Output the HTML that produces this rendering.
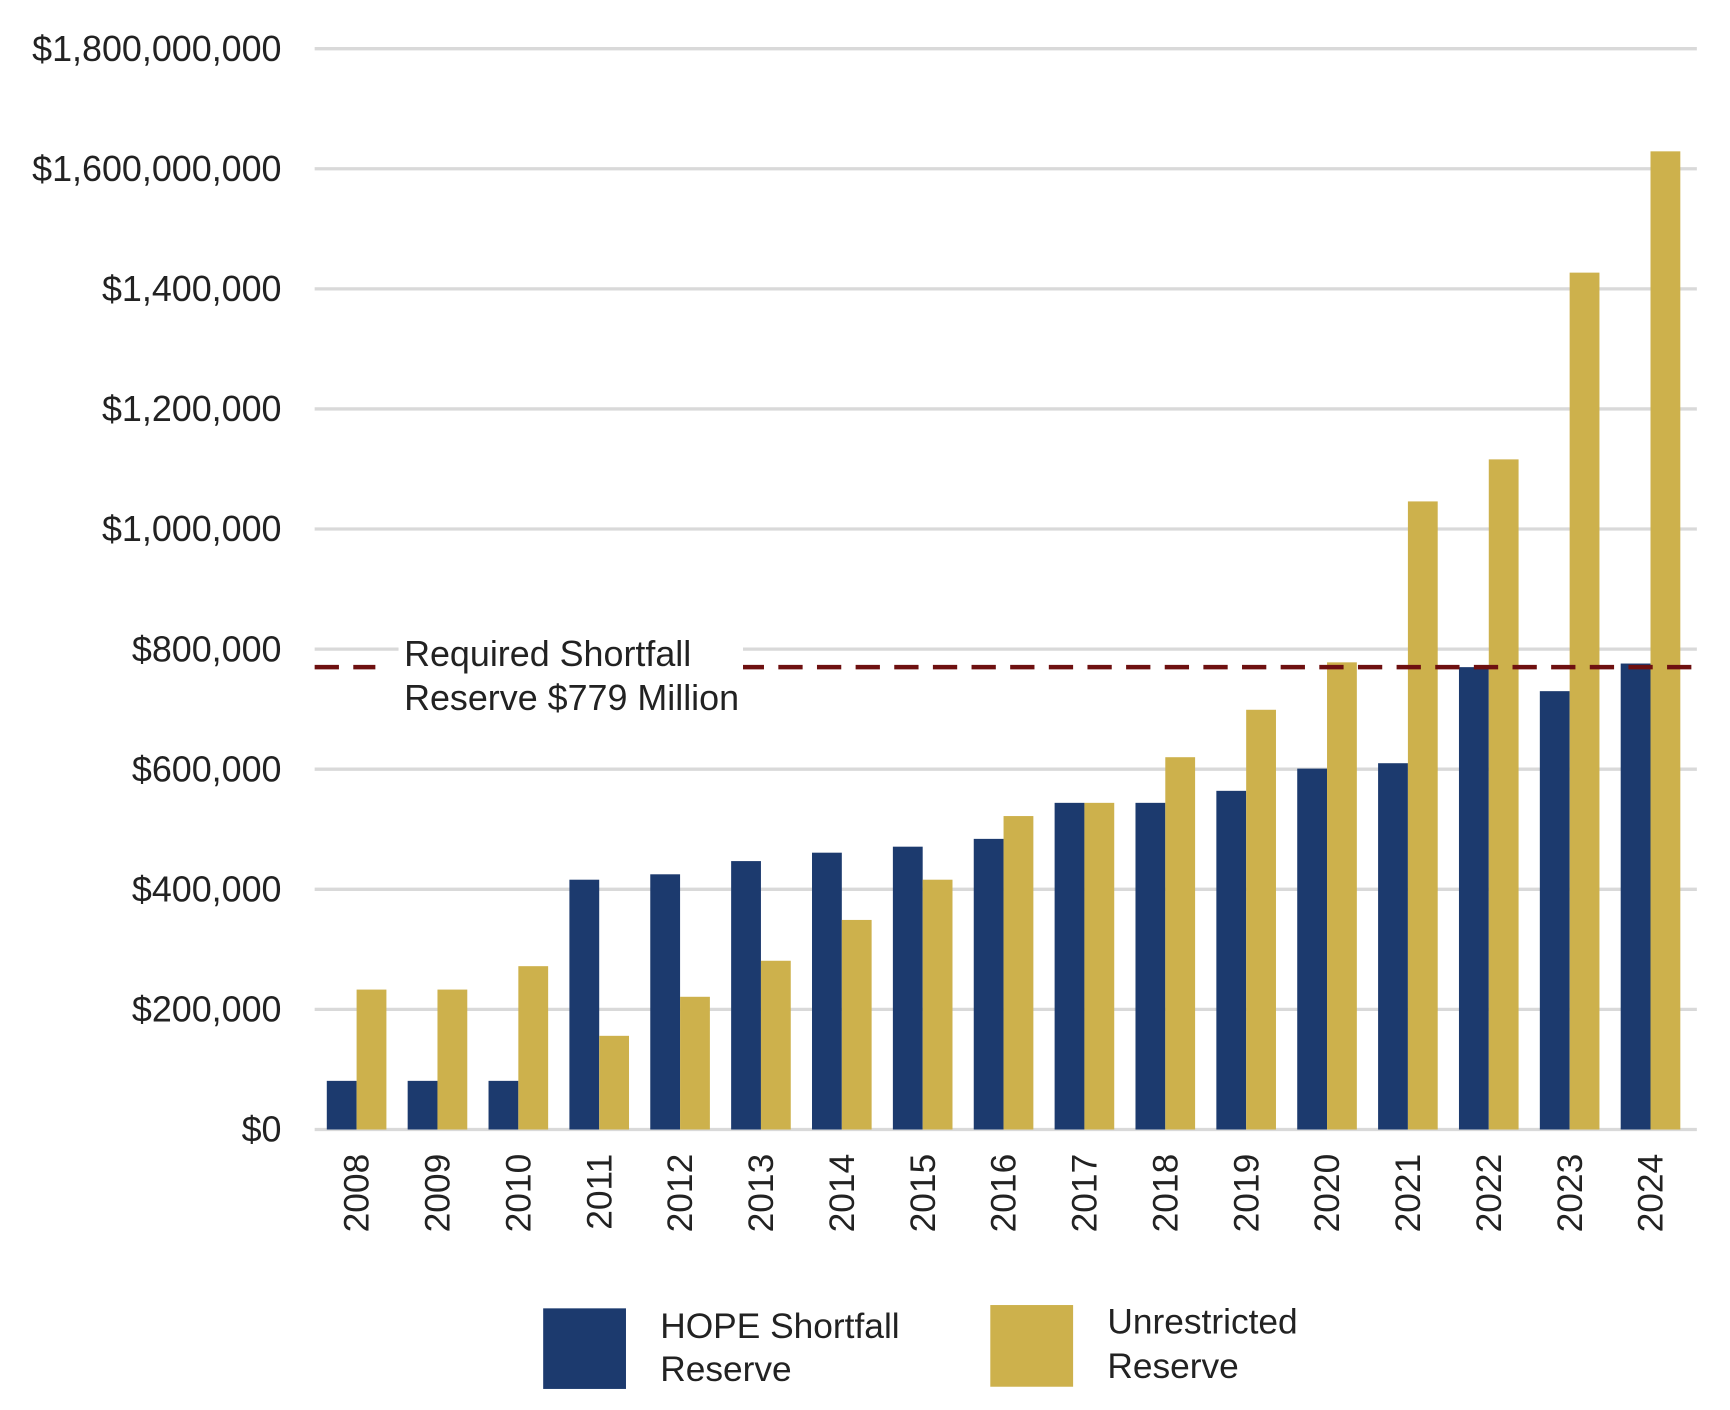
<!DOCTYPE html>
<html><head><meta charset="utf-8"><style>
html,body{margin:0;padding:0;background:#fff;}
svg{display:block;font-family:"Liberation Sans",Arial,sans-serif;}
</style></head><body>
<svg id="chart" width="1730" height="1410" viewBox="0 0 1567 1277" xmlns="http://www.w3.org/2000/svg">
<g id="grid"></g>
<g id="ylabels"></g>
<g id="bars"></g>
<g id="xlabels"></g>
<rect x="361" y="576" width="312" height="74" fill="#fff"/>
<line id="reqline" stroke="#6e1010" stroke-width="4" stroke-dasharray="22 13"/>
<rect x="340" y="596" width="333" height="14" fill="#fff"/>
<text x="366" y="603" font-size="32.5" fill="#222">Required Shortfall</text>
<text x="366" y="643" font-size="32.5" fill="#222">Reserve $779 Million</text>
<g>
<rect x="492" y="1185" width="75" height="73" fill="#1c3a6e"/>
<text x="598" y="1212" font-size="32" fill="#222">HOPE Shortfall</text>
<text x="598" y="1251" font-size="32" fill="#222">Reserve</text>
<rect x="897" y="1182" width="75" height="74" fill="#cdb14c"/>
<text x="1003" y="1208" font-size="32" fill="#222">Unrestricted</text>
<text x="1003" y="1248" font-size="32" fill="#222">Reserve</text>
</g>
</svg>
<script>
const years = ["2008","2009","2010","2011","2012","2013","2014","2015","2016","2017","2018","2019","2020","2021","2022","2023","2024"];
const hopeReserve = [81,81,81,416,425,447,461,471,484,544,544,564,601,610,770,730,776];
const unrestrictedReserve = [233,233,272,156,221,281,349,416,522,544,620,699,778,1046,1116,1427,1629];
const tickValues = [0,200,400,600,800,1000,1200,1400,1600,1800];
const tickLabels = ["$0","$200,000","$400,000","$600,000","$800,000","$1,000,000","$1,200,000","$1,400,000","$1,600,000,000","$1,800,000,000"];
const requiredReserve = 770;

const NS = "http://www.w3.org/2000/svg";
const y0 = 1023, yTop = 44, maxV = 1800;
const yScale = v => y0 - (v / maxV) * (y0 - yTop);
const firstLeft = 296, lastLeft = 1468, barW = 27;
const xScale = i => firstLeft + i * (lastLeft - firstLeft) / (years.length - 1);
function mk(tag, attrs, parent){const e=document.createElementNS(NS,tag);for(const k in attrs)e.setAttribute(k,attrs[k]);parent.appendChild(e);return e;}

const grid = document.getElementById('grid'), yl = document.getElementById('ylabels');
tickValues.forEach((v,i)=>{
  const y = yScale(v);
  const l = mk('line',{x1:285,x2:1537,y1:y,y2:y,stroke:'#d9d9d9','stroke-width':3},grid);
  
  
  const t = mk('text',{x:255,y:y+11,'text-anchor':'end','font-size':32.5,fill:'#222'},yl);
  
  
  t.textContent = tickLabels[i];
});

const bars = document.getElementById('bars'), xl = document.getElementById('xlabels');
years.forEach((yr,i)=>{
  const x = xScale(i);
  const b1 = mk('rect',{x:x,y:yScale(hopeReserve[i]),width:barW,height:y0-yScale(hopeReserve[i]),fill:'#1c3a6e'},bars);
  
  
  const b2 = mk('rect',{x:x+barW,y:yScale(unrestrictedReserve[i]),width:barW,height:y0-yScale(unrestrictedReserve[i]),fill:'#cdb14c'},bars);
  
  
  const cx = x + barW + 11;
  const t = mk('text',{x:0,y:0,'text-anchor':'end','font-size':32,fill:'#222',transform:'translate('+cx+',1045) rotate(-90)'},xl);
  
  
  t.textContent = yr;
});

const rl = document.getElementById('reqline');
const ry = yScale(requiredReserve);
rl.setAttribute('x1',285);rl.setAttribute('x2',1537);rl.setAttribute('y1',ry);rl.setAttribute('y2',ry);
</script>
</body></html>
